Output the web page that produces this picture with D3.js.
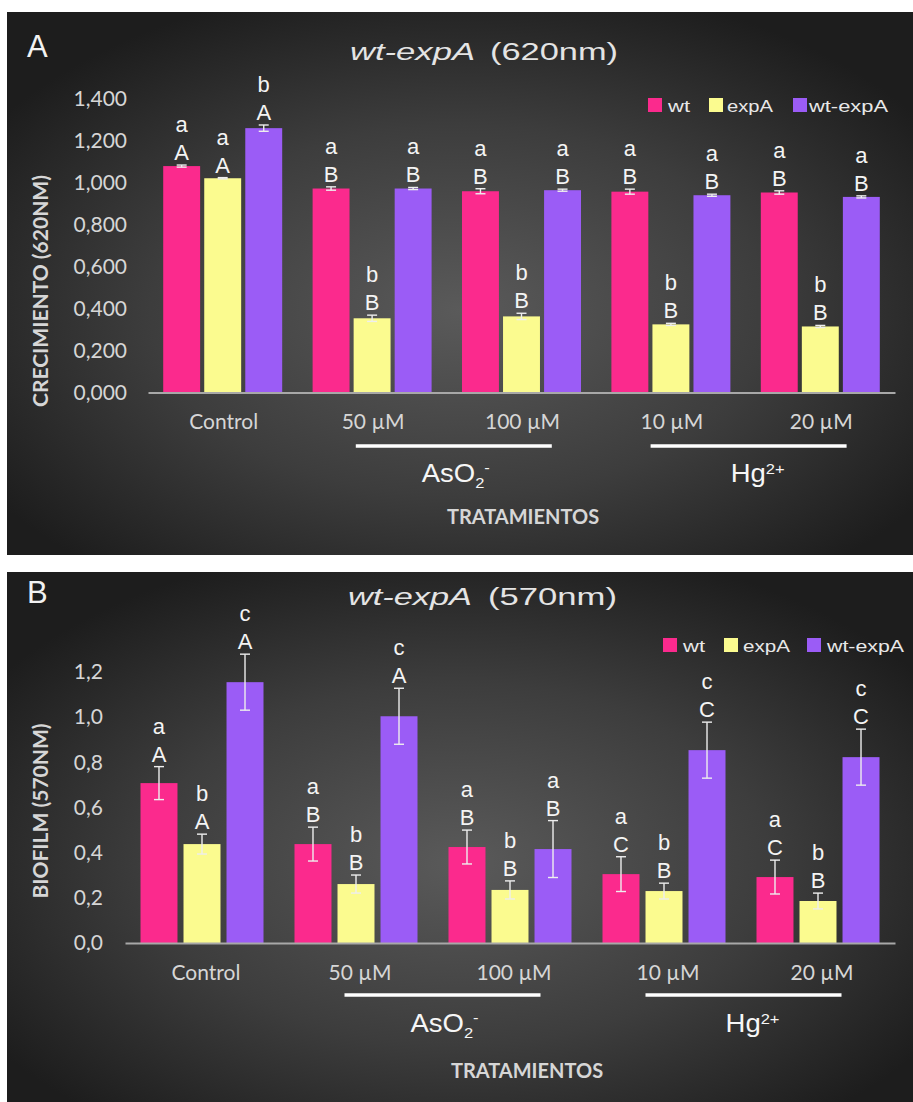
<!DOCTYPE html>
<html>
<head>
<meta charset="utf-8">
<script src="https://cdn.jsdelivr.net/npm/d3@7"></script>
<style>
  html, body { margin: 0; padding: 0; background: #ffffff; }
  svg { display: block; }
</style>
</head>
<body>
<svg id="chart" width="913" height="1102"></svg>
<script>
// ---- data -------------------------------------------------------------
const categories = ["Control", "50 µM", "100 µM", "10 µM", "20 µM"];
const seriesNames = ["wt", "expA", "wt-expA"];
const seriesColors = ["#fb2a8d", "#fbfb8f", "#9b5cf6"];

// Panel A: growth (620 nm)
const growthWt = [1.080, 0.973, 0.960, 0.958, 0.954];
const growthExpA = [1.022, 0.354, 0.363, 0.325, 0.315];
const growthWtExpA = [1.261, 0.973, 0.965, 0.941, 0.933];
const growthErrWt = [0.005, 0.008, 0.012, 0.012, 0.008];
const growthErrExpA = [0.003, 0.015, 0.015, 0.005, 0.005];
const growthErrWtExpA = [0.015, 0.005, 0.005, 0.005, 0.005];
const growthLowerWt = ["a", "a", "a", "a", "a"];
const growthLowerExpA = ["a", "b", "b", "b", "b"];
const growthLowerWtExpA = ["b", "a", "a", "a", "a"];
const growthUpperWt = ["A", "B", "B", "B", "B"];
const growthUpperExpA = ["A", "B", "B", "B", "B"];
const growthUpperWtExpA = ["A", "B", "B", "B", "B"];
const growthTicks = [0, 0.2, 0.4, 0.6, 0.8, 1.0, 1.2, 1.4];

// Panel B: biofilm (570 nm)
const biofilmWt = [0.708, 0.438, 0.425, 0.305, 0.292];
const biofilmExpA = [0.438, 0.261, 0.235, 0.230, 0.186];
const biofilmWtExpA = [1.155, 1.004, 0.416, 0.854, 0.823];
const biofilmErrWt = [0.073, 0.075, 0.075, 0.077, 0.075];
const biofilmErrExpA = [0.044, 0.040, 0.040, 0.035, 0.035];
const biofilmErrWtExpA = [0.124, 0.124, 0.126, 0.124, 0.124];
const biofilmLowerWt = ["a", "a", "a", "a", "a"];
const biofilmLowerExpA = ["b", "b", "b", "b", "b"];
const biofilmLowerWtExpA = ["c", "c", "a", "c", "c"];
const biofilmUpperWt = ["A", "B", "B", "C", "C"];
const biofilmUpperExpA = ["A", "B", "B", "B", "B"];
const biofilmUpperWtExpA = ["A", "A", "B", "C", "C"];
const biofilmTicks = [0, 0.2, 0.4, 0.6, 0.8, 1.0, 1.2];

// treatment groups drawn under the category labels
const treatmentGroups = [
  { from: "50 µM", to: "100 µM", base: "AsO", sub: "2", sup: "-" },
  { from: "10 µM", to: "20 µM", base: "Hg", sub: "", sup: "2+" }
];

// ---- drawing ----------------------------------------------------------
const svg = d3.select("#chart");
const defs = svg.append("defs");
const grad = defs.append("radialGradient")
  .attr("id", "panelBg").attr("cx", 0.5).attr("cy", 0.55).attr("r", 0.62);
grad.append("stop").attr("offset", 0).attr("stop-color", "#5a5a5a");
grad.append("stop").attr("offset", 0.55).attr("stop-color", "#3d3d3d");
grad.append("stop").attr("offset", 1).attr("stop-color", "#1d1d1d");

const LABEL_FONT = "Lato, 'Open Sans', sans-serif";
const ARIAL = "'Liberation Sans', Arial, sans-serif";

function commaFormat(spec) {
  const f = d3.format(spec);
  return d => f(d).replace(".", ",");
}

function drawPanel(cfg) {
  const g = svg.append("g");

  g.append("rect")
    .attr("x", cfg.bg[0]).attr("y", cfg.bg[1])
    .attr("width", cfg.bg[2]).attr("height", cfg.bg[3])
    .attr("fill", "url(#panelBg)");

  // panel letter
  g.append("text")
    .attr("x", cfg.letterX).attr("y", cfg.letterY)
    .attr("font-family", ARIAL).attr("font-size", 31)
    .attr("fill", "#f2f2f2").text(cfg.letter);

  // title: italic strain name + wavelength
  g.append("text")
    .attr("x", cfg.titleItalic[0]).attr("y", cfg.titleY)
    .attr("font-family", ARIAL).attr("font-size", 23).attr("font-style", "italic")
    .attr("fill", "#e4e4e4")
    .attr("textLength", cfg.titleItalic[1] - cfg.titleItalic[0])
    .attr("lengthAdjust", "spacingAndGlyphs")
    .text("wt-expA");
  g.append("text")
    .attr("x", cfg.titleReg[0]).attr("y", cfg.titleY)
    .attr("font-family", ARIAL).attr("font-size", 23)
    .attr("fill", "#e4e4e4")
    .attr("textLength", cfg.titleReg[1] - cfg.titleReg[0])
    .attr("lengthAdjust", "spacingAndGlyphs")
    .text(cfg.titleSuffix);

  // scales
  const x0 = d3.scaleBand().domain(categories).range([cfg.left, cfg.right]);
  const x1 = d3.scaleBand().domain(seriesNames)
    .range([0, cfg.groupWidth]).paddingInner(cfg.barPad);
  const y = d3.scaleLinear().domain([0, cfg.yMax]).range([cfg.base, cfg.top]);
  const groupOffset = (x0.bandwidth() - cfg.groupWidth) / 2;

  // y axis labels (no axis line)
  const yAxis = g.append("g")
    .attr("transform", `translate(${cfg.tickRight},0)`)
    .call(d3.axisLeft(y).tickValues(cfg.ticks).tickFormat(commaFormat(cfg.fmt))
      .tickSize(0).tickPadding(0));
  yAxis.select(".domain").remove();
  yAxis.selectAll("text")
    .attr("font-family", LABEL_FONT).attr("font-size", 21)
    .attr("fill", "#d6d6d6");

  // y axis title
  g.append("text")
    .attr("transform", `translate(${cfg.yTitleX},${cfg.yTitleY}) rotate(-90)`)
    .attr("text-anchor", "middle")
    .attr("font-family", LABEL_FONT).attr("font-weight", 700).attr("font-size", 21)
    .attr("fill", "#d6d6d6")
    .text(cfg.yTitle);

  // bars, error bars and significance letters
  cfg.series.forEach((s, si) => {
    const rows = categories.map((c, i) => ({
      cat: c, v: s.values[i], e: s.errors[i], lo: s.lower[i], up: s.upper[i]
    }));
    const sg = g.append("g");
    const cx = d => x0(d.cat) + groupOffset + x1(seriesNames[si]) + x1.bandwidth() / 2;

    sg.selectAll("rect.bar").data(rows).join("rect")
      .attr("class", "bar")
      .attr("x", d => x0(d.cat) + groupOffset + x1(seriesNames[si]))
      .attr("y", d => y(d.v))
      .attr("width", x1.bandwidth())
      .attr("height", d => y(0) - y(d.v))
      .attr("fill", seriesColors[si]);

    const eg = sg.selectAll("g.err").data(rows).join("g").attr("class", "err")
      .attr("stroke", "#eeeeee").attr("stroke-width", 1.4);
    eg.append("line")
      .attr("x1", cx).attr("x2", cx)
      .attr("y1", d => y(d.v - d.e)).attr("y2", d => y(d.v + d.e));
    eg.append("line")
      .attr("x1", d => cx(d) - 5).attr("x2", d => cx(d) + 5)
      .attr("y1", d => y(d.v + d.e)).attr("y2", d => y(d.v + d.e));
    eg.append("line")
      .attr("x1", d => cx(d) - 5).attr("x2", d => cx(d) + 5)
      .attr("y1", d => y(d.v - d.e)).attr("y2", d => y(d.v - d.e));

    sg.selectAll("text.up").data(rows).join("text")
      .attr("class", "up")
      .attr("x", cx).attr("y", d => y(d.v + d.e) - 5)
      .attr("text-anchor", "middle")
      .attr("font-family", ARIAL).attr("font-size", 22).attr("fill", "#f4f4f4")
      .text(d => d.up);
    sg.selectAll("text.lo").data(rows).join("text")
      .attr("class", "lo")
      .attr("x", cx).attr("y", d => y(d.v + d.e) - 33)
      .attr("text-anchor", "middle")
      .attr("font-family", ARIAL).attr("font-size", 22).attr("fill", "#f4f4f4")
      .text(d => d.lo);
  });

  // x axis: baseline + category labels
  const xAxis = g.append("g")
    .attr("transform", `translate(0,${cfg.base})`)
    .call(d3.axisBottom(x0).tickSize(0).tickSizeOuter(0).tickPadding(cfg.catPad));
  xAxis.select(".domain").attr("stroke", "#a8a8a8").attr("stroke-width", 2);
  xAxis.selectAll("text")
    .attr("dx", cfg.catDx)
    .attr("font-family", LABEL_FONT).attr("font-size", 21)
    .attr("fill", "#d6d6d6");

  // treatment brackets
  treatmentGroups.forEach((tg, k) => {
    const mid = (x0(tg.from) + x0(tg.to) + x0.bandwidth()) / 2 + cfg.groupDx[k];
    g.append("line")
      .attr("x1", mid - 98).attr("x2", mid + 98)
      .attr("y1", cfg.groupLineY).attr("y2", cfg.groupLineY)
      .attr("stroke", "#ffffff").attr("stroke-width", 3.5);
    const t = g.append("text")
      .attr("transform", `translate(${mid + cfg.groupTextDx[k]},${cfg.groupTextY}) scale(1.1,1)`)
      .attr("text-anchor", "middle")
      .attr("font-family", ARIAL).attr("font-size", 25).attr("fill", "#f6f6f6");
    t.append("tspan").text(tg.base);
    if (tg.sub) t.append("tspan").attr("font-size", 15).attr("dy", 6).text(tg.sub);
    if (tg.sup) t.append("tspan").attr("font-size", 15)
      .attr("dy", tg.sub ? -15 : -8).text(tg.sup);
  });

  g.append("text")
    .attr("x", cfg.tratX).attr("y", cfg.tratY)
    .attr("text-anchor", "middle")
    .attr("font-family", LABEL_FONT).attr("font-weight", 700).attr("font-size", 20)
    .attr("fill", "#d6d6d6")
    .text("TRATAMIENTOS");

  // legend
  seriesNames.forEach((name, i) => {
    g.append("rect")
      .attr("x", cfg.legendSq[i]).attr("y", cfg.legendTop)
      .attr("width", 14).attr("height", 14)
      .attr("fill", seriesColors[i]);
    g.append("text")
      .attr("x", cfg.legendText[i]).attr("y", cfg.legendTop + 14)
      .attr("font-family", ARIAL).attr("font-size", 17).attr("fill", "#e8e8e8")
      .attr("textLength", cfg.legendWidth[i]).attr("lengthAdjust", "spacingAndGlyphs")
      .text(name);
  });
}

drawPanel({
  bg: [7, 12, 906, 543], letter: "A", letterX: 27, letterY: 57,
  titleY: 60, titleItalic: [350, 475], titleReg: [490, 618], titleSuffix: "(620nm)",
  left: 148, right: 895, base: 392.5, top: 99, yMax: 1.4,
  groupWidth: 119, barPad: 0.1,
  ticks: growthTicks, fmt: ".3f", tickRight: 127,
  yTitle: "CRECIMIENTO (620NM)", yTitleX: 48, yTitleY: 291,
  catPad: 22, catDx: 1,
  groupDx: [7, 3], groupTextDx: [2, 9], groupLineY: 446, groupTextY: 482,
  tratX: 523, tratY: 524,
  legendSq: [648, 709, 793], legendText: [668, 727, 809], legendWidth: [22, 46, 79],
  legendTop: 98,
  series: [
    { values: growthWt, errors: growthErrWt, lower: growthLowerWt, upper: growthUpperWt },
    { values: growthExpA, errors: growthErrExpA, lower: growthLowerExpA, upper: growthUpperExpA },
    { values: growthWtExpA, errors: growthErrWtExpA, lower: growthLowerWtExpA, upper: growthUpperWtExpA }
  ]
});

drawPanel({
  bg: [7, 572, 906, 530], letter: "B", letterX: 27, letterY: 603,
  titleY: 605, titleItalic: [348, 472], titleReg: [488, 617], titleSuffix: "(570nm)",
  left: 125, right: 895, base: 943, top: 672, yMax: 1.2,
  groupWidth: 123, barPad: 0.14,
  ticks: biofilmTicks, fmt: ".1f", tickRight: 103,
  yTitle: "BIOFILM (570NM)", yTitleX: 48, yTitleY: 811,
  catPad: 22, catDx: 4,
  groupDx: [9.5, 2.5], groupTextDx: [2, 9], groupLineY: 995, groupTextY: 1032,
  tratX: 527, tratY: 1078,
  legendSq: [663, 724, 807], legendText: [683, 743, 827], legendWidth: [22, 47, 77],
  legendTop: 638,
  series: [
    { values: biofilmWt, errors: biofilmErrWt, lower: biofilmLowerWt, upper: biofilmUpperWt },
    { values: biofilmExpA, errors: biofilmErrExpA, lower: biofilmLowerExpA, upper: biofilmUpperExpA },
    { values: biofilmWtExpA, errors: biofilmErrWtExpA, lower: biofilmLowerWtExpA, upper: biofilmUpperWtExpA }
  ]
});
</script>
</body>
</html>
